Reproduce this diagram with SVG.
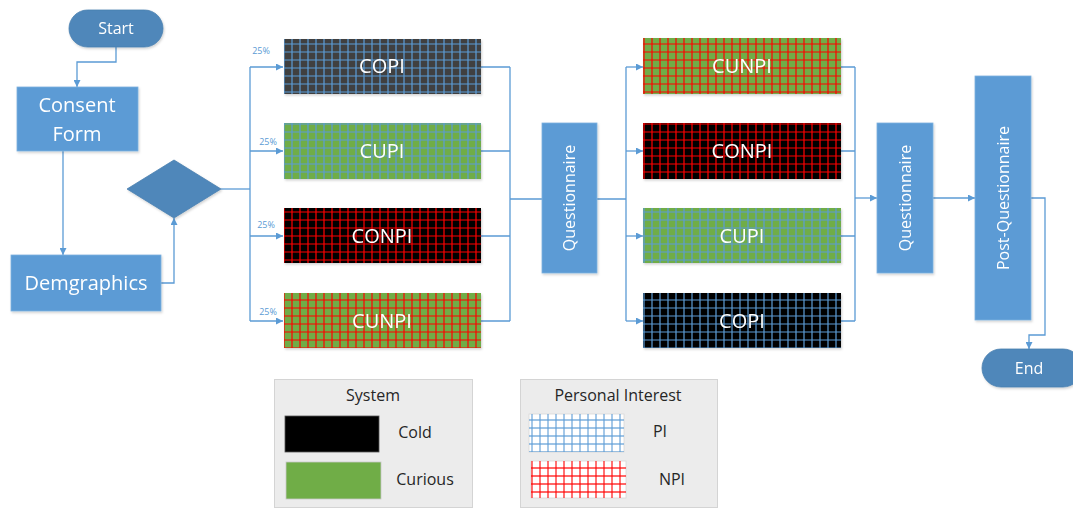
<svg xmlns="http://www.w3.org/2000/svg" width="1073" height="509" viewBox="0 0 1073 509">
<style>
.proc{fill:#5b9bd5;stroke:#7eb1de;stroke-width:0.8}
.term{fill:#4f87ba;stroke:#4a80b0;stroke-width:0.8}
.lbl{font-family:"Open Sans","Noto Sans",sans-serif;fill:#ffffff;text-anchor:middle}
.pct{font-family:"Open Sans","Noto Sans",sans-serif;fill:#5b9bd5;font-size:9px;text-anchor:middle}
.leg{font-family:"Open Sans","Noto Sans",sans-serif;fill:#262626;font-size:16px;text-anchor:middle}
.conn path{fill:none;stroke:#5b9bd5;stroke-width:1.3}
.legbox{fill:#ececec;stroke:#d4d4d4;stroke-width:1}
.cell{stroke:#d8d8d8;stroke-width:0.8}
</style>
<defs>
<marker id="arr" viewBox="0 0 10 10" refX="10" refY="5" markerWidth="8" markerHeight="7" markerUnits="userSpaceOnUse" orient="auto">
<path d="M0,0 L10,5 L0,10 z" fill="#5b9bd5"/>
</marker>
<pattern id="piGrid" patternUnits="userSpaceOnUse" x="0" y="0" width="8" height="8">
<path d="M4,0 V8 M0,4 H8" stroke="#5b9bd5" stroke-width="1.2" fill="none"/>
</pattern>
<pattern id="npiGrid" patternUnits="userSpaceOnUse" x="0" y="0" width="8" height="8">
<path d="M4,0 V8 M0,4 H8" stroke="#ff0000" stroke-width="1.2" fill="none"/>
</pattern>
<pattern id="piLeg" patternUnits="userSpaceOnUse" x="0" y="0" width="8" height="8">
<path d="M4,0 V8" stroke="#5b9bd5" stroke-opacity="0.55" stroke-width="2" fill="none"/>
<path d="M0,4 H8" stroke="#5b9bd5" stroke-width="1.2" fill="none"/>
</pattern>
<pattern id="npiLeg" patternUnits="userSpaceOnUse" x="0" y="0" width="8" height="8">
<path d="M4,0 V8" stroke="#ff0000" stroke-opacity="0.55" stroke-width="2" fill="none"/>
<path d="M0,4 H8" stroke="#ff0000" stroke-width="1.2" fill="none"/>
</pattern>
<filter id="sh" x="-10%" y="-10%" width="130%" height="130%">
<feDropShadow dx="1" dy="1.5" stdDeviation="1.2" flood-color="#000" flood-opacity="0.18"/>
</filter>
</defs>
<rect width="1073" height="509" fill="#ffffff"/>

<g class="conn" id="connectors">
<path d="M116,47 V62 H77 V87" marker-end="url(#arr)"/>
<path d="M63,151 V255" marker-end="url(#arr)"/>
<path d="M161,283 H174 V218" marker-end="url(#arr)"/>
<path d="M221,189 H250"/>
<path d="M250,67 V321"/>
<path d="M250,67 H283" marker-end="url(#arr)"/>
<path d="M250,151 H283" marker-end="url(#arr)"/>
<path d="M250,236 H283" marker-end="url(#arr)"/>
<path d="M250,321 H283" marker-end="url(#arr)"/>
<path d="M481,67 H510 M481,151 H510 M481,236 H510 M481,321 H510 M510,67 V321 M510,199 H542"/>
<path d="M597,199 H626 M626,67 V321"/>
<path d="M626,67 H643" marker-end="url(#arr)"/>
<path d="M626,151 H643" marker-end="url(#arr)"/>
<path d="M626,236 H643" marker-end="url(#arr)"/>
<path d="M626,321 H643" marker-end="url(#arr)"/>
<path d="M841,67 H855 M841,151 H855 M841,236 H855 M841,321 H855 M855,67 V321"/>
<path d="M855,198 H877" marker-end="url(#arr)"/>
<path d="M933,198 H975" marker-end="url(#arr)"/>
<path d="M1031,198 H1045 V335 H1029 V349" marker-end="url(#arr)"/>
</g>

<g id="start" filter="url(#sh)">
<rect class="term" x="69" y="10" width="94" height="37" rx="18.5"/>
<text class="lbl" x="116" y="34" font-size="16">Start</text>
</g>
<g id="consent" filter="url(#sh)">
<rect class="proc" x="17" y="87" width="121" height="64"/>
<text class="lbl" x="77" y="112" font-size="20">Consent</text>
<text class="lbl" x="77" y="141" font-size="20">Form</text>
</g>
<g id="demographics" filter="url(#sh)">
<rect class="proc" x="11" y="255" width="150" height="56"/>
<text class="lbl" x="86" y="290" font-size="20">Demgraphics</text>
</g>
<g id="decision" filter="url(#sh)">
<polygon class="term" points="127,189 174,160 221,189 174,218"/>
</g>

<g id="pct-labels">
<text class="pct" x="261" y="54">25%</text>
<text class="pct" x="268" y="145">25%</text>
<text class="pct" x="266" y="228">25%</text>
<text class="pct" x="268" y="315">25%</text>
</g>

<g id="l-copi" filter="url(#sh)">
<rect x="284" y="39" width="197" height="55" fill="#404040"/>
<rect x="284" y="39" width="197" height="55" fill="url(#piGrid)"/>
<text class="lbl" x="382" y="73" font-size="20">COPI</text>
</g>
<g id="l-cupi" filter="url(#sh)">
<rect x="284" y="123" width="197" height="56" fill="#70ad47"/>
<rect x="284" y="123" width="197" height="56" fill="url(#piGrid)"/>
<text class="lbl" x="382" y="158" font-size="20">CUPI</text>
</g>
<g id="l-conpi" filter="url(#sh)">
<rect x="284" y="208" width="197" height="55" fill="#000000"/>
<rect x="284" y="208" width="197" height="55" fill="url(#npiGrid)"/>
<text class="lbl" x="382" y="243" font-size="20">CONPI</text>
</g>
<g id="l-cunpi" filter="url(#sh)">
<rect x="284" y="293" width="197" height="55" fill="#70ad47"/>
<rect x="284" y="293" width="197" height="55" fill="url(#npiGrid)"/>
<text class="lbl" x="382" y="328" font-size="20">CUNPI</text>
</g>

<g id="questionnaire1" filter="url(#sh)">
<rect class="proc" x="542" y="123" width="55" height="150"/>
<text class="lbl" font-size="16" transform="translate(575,198) rotate(-90)">Questionnaire</text>
</g>

<g id="r-cunpi" filter="url(#sh)">
<rect x="643" y="38" width="198" height="56" fill="#70ad47"/>
<rect x="643" y="38" width="198" height="56" fill="url(#npiGrid)"/>
<text class="lbl" x="742" y="73" font-size="20">CUNPI</text>
</g>
<g id="r-conpi" filter="url(#sh)">
<rect x="643" y="123" width="198" height="56" fill="#000000"/>
<rect x="643" y="123" width="198" height="56" fill="url(#npiGrid)"/>
<text class="lbl" x="742" y="158" font-size="20">CONPI</text>
</g>
<g id="r-cupi" filter="url(#sh)">
<rect x="643" y="208" width="198" height="55" fill="#70ad47"/>
<rect x="643" y="208" width="198" height="55" fill="url(#piGrid)"/>
<text class="lbl" x="742" y="243" font-size="20">CUPI</text>
</g>
<g id="r-copi" filter="url(#sh)">
<rect x="643" y="293" width="198" height="55" fill="#000000"/>
<rect x="643" y="293" width="198" height="55" fill="url(#piGrid)"/>
<text class="lbl" x="742" y="328" font-size="20">COPI</text>
</g>

<g id="questionnaire2" filter="url(#sh)">
<rect class="proc" x="877" y="123" width="56" height="150"/>
<text class="lbl" font-size="16" transform="translate(911,198) rotate(-90)">Questionnaire</text>
</g>
<g id="post-questionnaire" filter="url(#sh)">
<rect class="proc" x="975" y="76" width="56" height="244"/>
<text class="lbl" font-size="16" transform="translate(1009,198) rotate(-90)">Post-Questionnaire</text>
</g>
<g id="end" filter="url(#sh)">
<rect class="term" x="982" y="349" width="100" height="38" rx="19"/>
<text class="lbl" x="1029" y="374" font-size="16">End</text>
</g>

<g id="legend-system">
<rect class="legbox" x="274.5" y="379.5" width="198" height="128"/>
<text class="leg" x="373" y="401">System</text>
<rect x="285" y="416" width="94" height="36" fill="#000000" stroke="#555" stroke-width="0.8"/>
<text class="leg" x="415" y="438">Cold</text>
<rect x="286" y="462" width="95" height="37" fill="#70ad47" stroke="#c9c9c9" stroke-width="0.8"/>
<text class="leg" x="425" y="485">Curious</text>
</g>
<g id="legend-interest">
<rect class="legbox" x="520.5" y="379.5" width="197" height="128"/>
<text class="leg" x="618" y="401">Personal Interest</text>
<rect x="529" y="414" width="95" height="38" fill="#ffffff" class="cell"/>
<rect x="529" y="414" width="95" height="38" fill="url(#piLeg)"/>
<text class="leg" x="660" y="437">PI</text>
<rect x="531" y="461" width="95" height="37" fill="#ffffff" class="cell"/>
<rect x="531" y="461" width="95" height="37" fill="url(#npiLeg)"/>
<text class="leg" x="672" y="485">NPI</text>
</g>
</svg>
